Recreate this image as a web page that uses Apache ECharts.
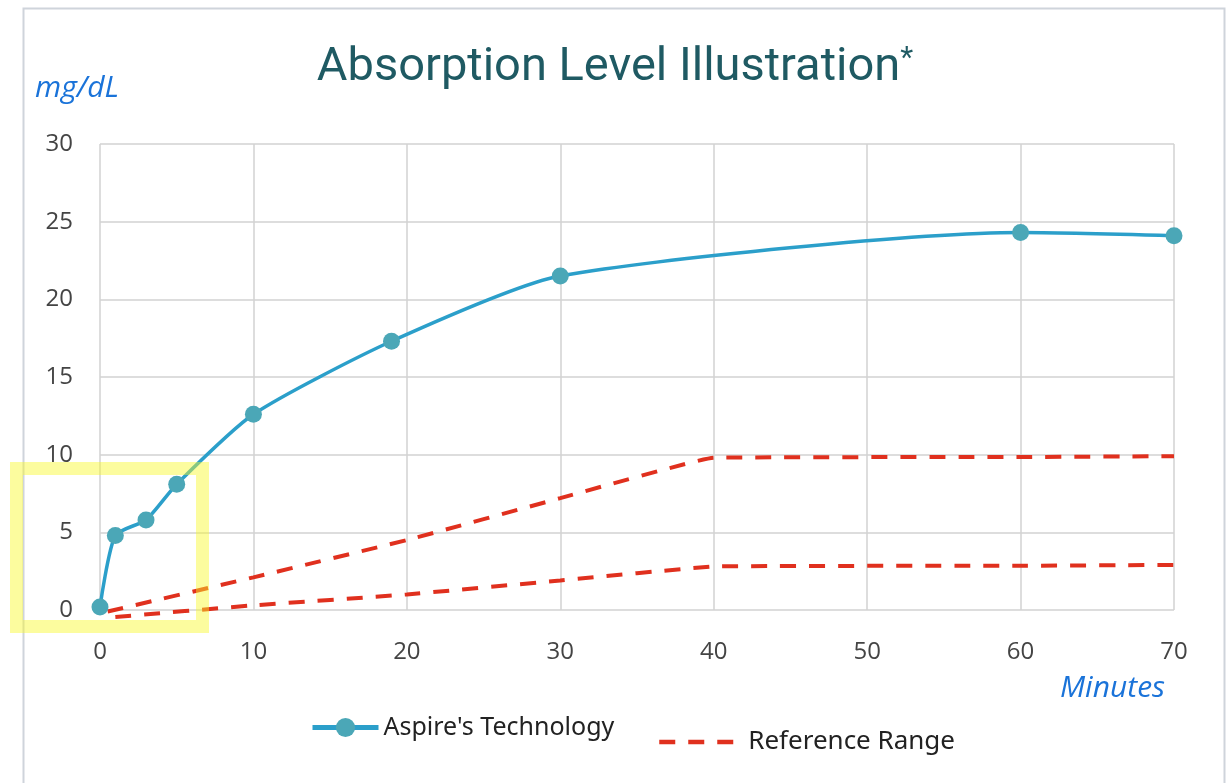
<!DOCTYPE html>
<html>
<head>
<meta charset="utf-8">
<script src="https://cdn.jsdelivr.net/npm/echarts@6/dist/echarts.min.js"></script>
<style>html,body{margin:0;padding:0;background:#fff;}#c{width:1230px;height:783px;}</style>
</head>
<body>
<div id="c"></div>
<script>
var minutes = [0, 1, 3, 5, 10, 19, 30, 60, 70];
var aspire = [0.2, 4.8, 5.8, 8.1, 12.6, 17.3, 21.5, 24.3, 24.1];
var refUpperX = [0.5, 10, 20, 30, 40, 60, 70];
var refUpperY = [-0.1, 2.1, 4.5, 7.2, 9.8, 9.85, 9.9];
var refLowerX = [1, 10, 20, 30, 40, 60, 70];
var refLowerY = [-0.45, 0.3, 1.0, 1.9, 2.8, 2.85, 2.9];
var xTicks = [0, 10, 20, 30, 40, 50, 60, 70];
var yTicks = [0, 5, 10, 15, 20, 25, 30];

function pairs(xs, ys) { return xs.map(function (x, i) { return [x, ys[i]]; }); }

var chart = echarts.init(document.getElementById('c'));
var redStyle = { color: '#e0301e', width: 4, type: [16, 13] };
chart.setOption({
  animation: false,
  backgroundColor: '#fff',
  title: {
    text: 'Absorption Level Illustration{s|*}',
    left: 'center', top: 39,
    textStyle: {
      fontFamily: 'Roboto', fontSize: 47, fontWeight: 'normal', color: '#1f5a63',
      rich: { s: { fontFamily: 'Roboto', fontSize: 30, color: '#1f5a63', verticalAlign: 'top', padding: [0, 0, 18, 0] } }
    }
  },
  grid: { left: 100, right: 56, top: 144, bottom: 173 },
  xAxis: {
    type: 'value', min: xTicks[0], max: xTicks[xTicks.length - 1], interval: 10,
    axisLine: { show: false }, axisTick: { show: false },
    splitLine: { show: true, lineStyle: { color: '#d2d2d2', width: 1.5 } },
    axisLabel: { margin: 30, fontFamily: 'Open Sans', fontSize: 24, color: '#444' }
  },
  yAxis: {
    type: 'value', min: yTicks[0], max: yTicks[yTicks.length - 1], interval: 5,
    axisLine: { show: false }, axisTick: { show: false },
    splitLine: { show: true, lineStyle: { color: '#d2d2d2', width: 1.5 } },
    axisLabel: { margin: 27, fontFamily: 'Open Sans', fontSize: 24, color: '#444' }
  },
  legend: [
    {
      data: ["Aspire's Technology"], left: 305, top: 710, itemWidth: 66, itemHeight: 24, itemGap: 8,
      lineStyle: { width: 5 },
      textStyle: { fontFamily: 'Noto Sans', fontSize: 25, color: '#222' }
    },
    {
      data: ['Reference Range'], left: 652, top: 724, itemWidth: 84, itemHeight: 18, itemGap: 10,
      itemStyle: { opacity: 0 },
      lineStyle: { width: 4.5 },
      textStyle: { fontFamily: 'Noto Sans', fontSize: 26, color: '#222' }
    }
  ],
  series: [
    {
      name: 'Reference Range', type: 'line', data: pairs(refUpperX, refUpperY),
      smooth: 0.08, symbol: 'none', clip: false, lineStyle: redStyle, itemStyle: { color: '#e0301e' }, z: 2
    },
    {
      name: 'Reference Range', type: 'line', data: pairs(refLowerX, refLowerY),
      smooth: 0.08, symbol: 'none', clip: false, lineStyle: redStyle, itemStyle: { color: '#e0301e' }, z: 2
    },
    {
      name: "Aspire's Technology", type: 'line', data: pairs(minutes, aspire),
      smooth: 0.22, symbol: 'circle', symbolSize: 17, clip: false,
      lineStyle: { color: '#2b9fca', width: 3.5 },
      itemStyle: { color: '#4ba7b7' }, z: 3
    }
  ],
  graphic: [
    {
      type: 'rect', left: 21, top: 6, z: -1, silent: true,
      shape: { width: 1201, height: 800 },
      style: { fill: null, stroke: '#cfd4db', lineWidth: 2 }
    },
    {
      type: 'text', left: 35, top: 73,
      style: { text: 'mg/dL', font: 'italic 30px "Open Sans"', fill: '#1a73d9' }
    },
    {
      type: 'text', left: 1060, top: 673,
      style: { text: 'Minutes', font: 'italic 30px "Open Sans"', fill: '#1a73d9' }
    },
    {
      type: 'rect', left: 10, top: 462, z: 100, silent: true,
      shape: { x: 6.5, y: 6.5, width: 186, height: 158 },
      style: { fill: null, stroke: 'rgba(248,248,40,0.45)', lineWidth: 13 }
    }
  ]
});
</script>
</body>
</html>
